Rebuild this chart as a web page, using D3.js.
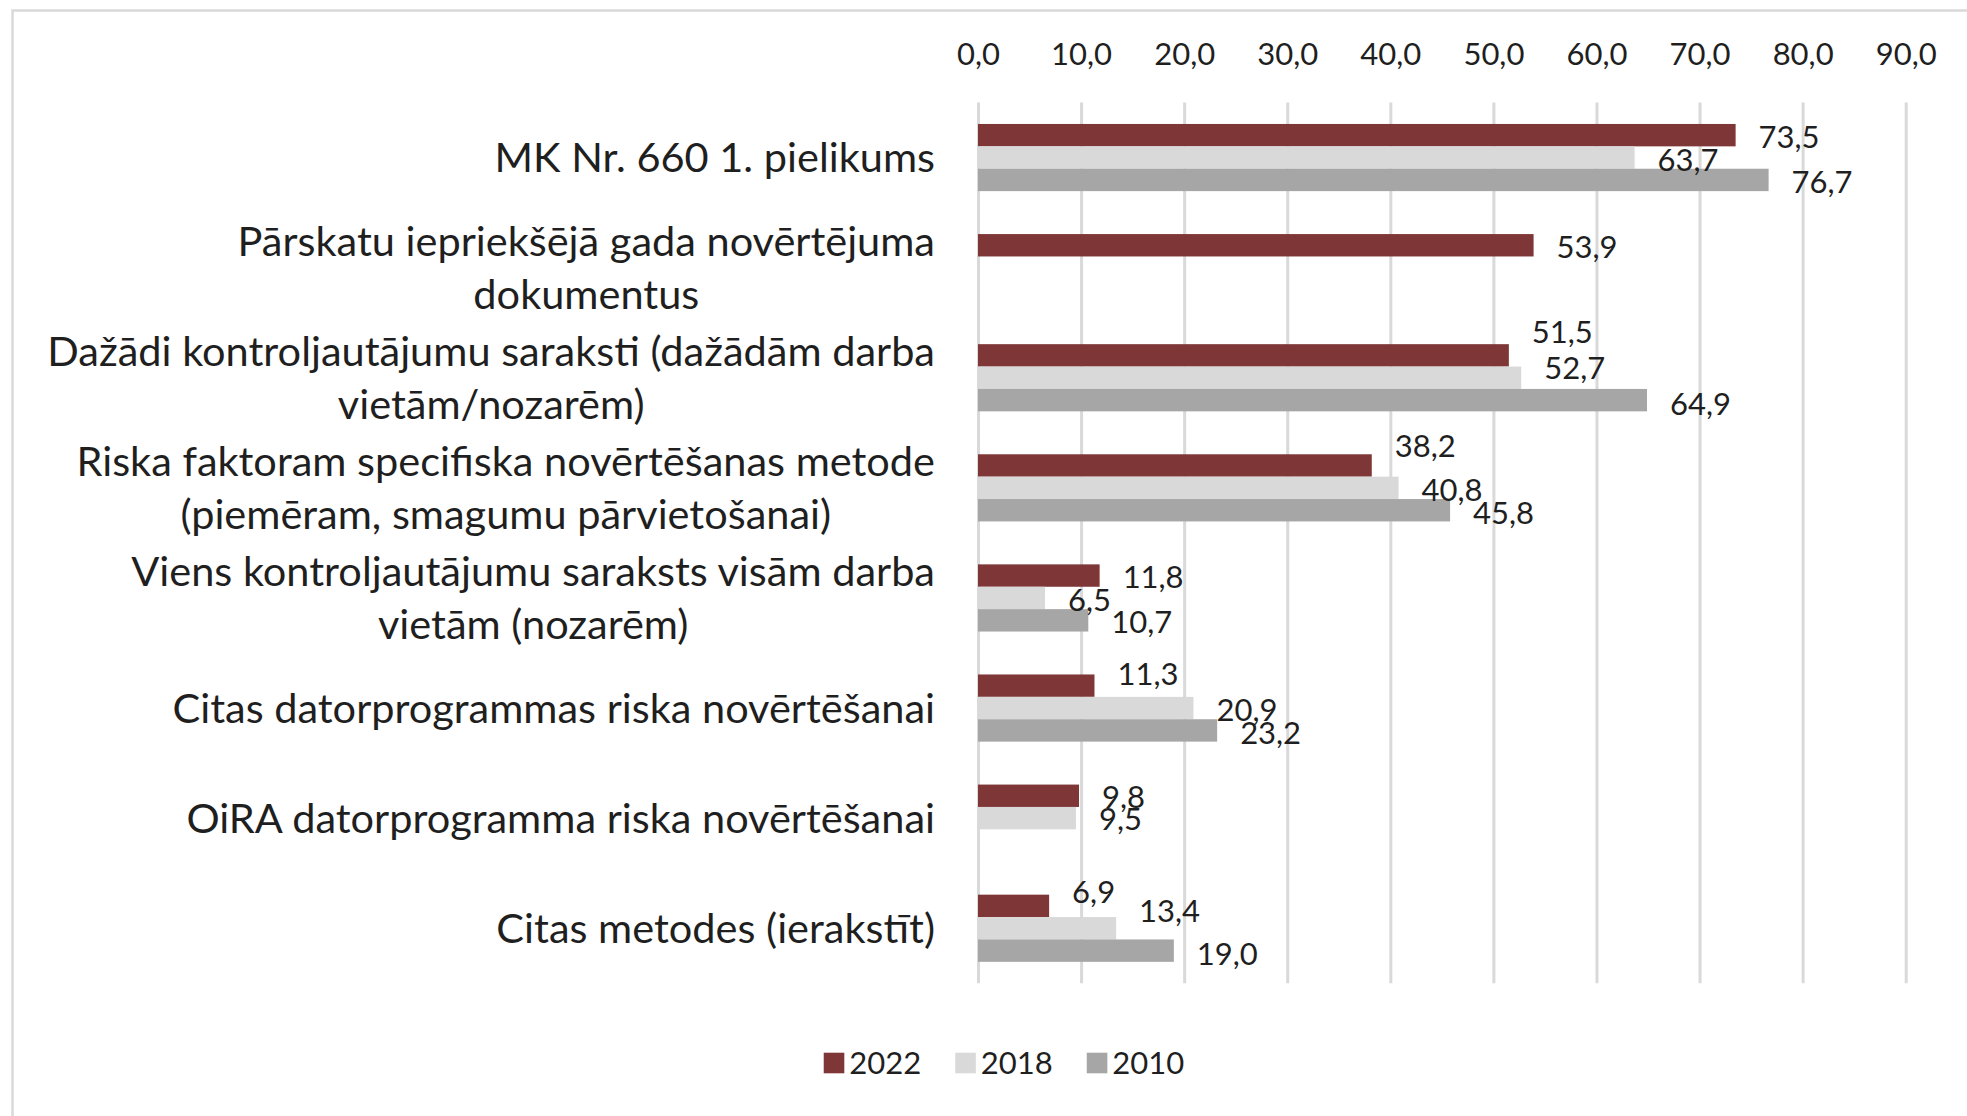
<!DOCTYPE html>
<html>
<head>
<meta charset="utf-8">
<script src="https://cdn.jsdelivr.net/npm/d3@7"></script>
<style>
  html, body { margin: 0; padding: 0; background: #ffffff; }
  svg { display: block; }
  text { font-family: Lato, "Open Sans", sans-serif; fill: #1f1f1f; }
</style>
</head>
<body>
<svg id="chart" width="1967" height="1116"></svg>
<script>
// ---------- data ----------
const categories = [
  "MK Nr. 660 1. pielikums",
  "Pārskatu iepriekšējā gada novērtējuma\ndokumentus",
  "Dažādi kontroljautājumu saraksti (dažādām darba\nvietām/nozarēm)",
  "Riska faktoram specifiska novērtēšanas metode\n(piemēram, smagumu pārvietošanai)",
  "Viens kontroljautājumu saraksts visām darba\nvietām (nozarēm)",
  "Citas datorprogrammas riska novērtēšanai",
  "OiRA datorprogramma riska novērtēšanai",
  "Citas metodes (ierakstīt)"
];
const seriesNames = ["2022", "2018", "2010"];
const values2022 = [73.5, 53.9, 51.5, 38.2, 11.8, 11.3, 9.8, 6.9];
const values2018 = [63.7, null, 52.7, 40.8, 6.5, 20.9, 9.5, 13.4];
const values2010 = [76.7, null, 64.9, 45.8, 10.7, 23.2, null, 19.0];
const xTicks = [0, 10, 20, 30, 40, 50, 60, 70, 80, 90];
const xMax = 90;

// ---------- layout / style (not data) ----------
const colors = ["#7e3636", "#d9d9d9", "#a6a6a6"];
const plot = { left: 978, right: 1905.7, top: 102.5, bottom: 983.3 };
const gapRatio = 0.39;
// manual vertical nudges of data labels (px, label centre relative to bar centre)
const labelNudge = [
  [2, 2, 2], [2, 0, 0], [-24, -10, 4], [-20, 2, 3],
  [1.5, 2, 2], [-12, 2, 2], [1, 1, 0], [-14, -17, 3]
];
const valueFont = 31, catFont = 41.5, catLine = 53;

const fmt = v => d3.format(".1f")(v).replace(".", ",");

const svg = d3.select("#chart");

// chart area border
svg.append("rect")
  .attr("x", 12.5).attr("y", 10.5)
  .attr("width", 2400).attr("height", 2400)
  .attr("fill", "none").attr("stroke", "#d9d9d9").attr("stroke-width", 2.5);

const table = categories.map((c, i) => ({
  cat: c,
  vals: [values2022[i], values2018[i], values2010[i]]
}));

const x = d3.scaleLinear().domain([0, xMax]).range([plot.left, plot.right]);
const y = d3.scaleBand().domain(categories)
  .range([plot.top, plot.bottom])
  .paddingInner(gapRatio).paddingOuter(gapRatio / 2);
const ys = d3.scaleBand().domain(seriesNames).range([0, y.bandwidth()]);

// axis with gridlines
const axis = d3.axisTop(x)
  .tickValues(xTicks)
  .tickSize(-(plot.bottom - plot.top))
  .tickPadding(37.5)
  .tickFormat(fmt);
const ag = svg.append("g").attr("transform", `translate(0,${plot.top})`).call(axis);
ag.select(".domain").remove();
ag.selectAll(".tick line").attr("stroke", "#d9d9d9").attr("stroke-width", 3);
ag.selectAll(".tick text")
  .attr("font-size", valueFont)
  .attr("font-family", "Lato, sans-serif")
  .attr("fill", "#1f1f1f");

// bars
const groups = svg.append("g").selectAll("g.grp")
  .data(table).join("g")
  .attr("class", "grp")
  .attr("transform", d => `translate(0,${y(d.cat)})`);

groups.each(function(d, gi) {
  const g = d3.select(this);
  const items = d.vals.map((v, si) => ({ v, si })).filter(e => e.v !== null);
  g.selectAll("rect").data(items).join("rect")
    .attr("x", x(0))
    .attr("y", e => ys(seriesNames[e.si]))
    .attr("width", e => x(e.v) - x(0))
    .attr("height", ys.bandwidth())
    .attr("fill", e => colors[e.si]);
  g.selectAll("text.lbl").data(items).join("text")
    .attr("class", "lbl")
    .attr("x", e => x(e.v) + 23)
    .attr("y", e => ys(seriesNames[e.si]) + ys.bandwidth() / 2 + labelNudge[gi][e.si] + valueFont * 0.36)
    .attr("font-size", valueFont)
    .text(e => fmt(e.v));
});

// category labels (wrapped lines centred in a right-aligned block)
const labelRight = 935;
const catG = svg.append("g");
categories.forEach(c => {
  const lines = c.split("\n");
  const cy = y(c) + y.bandwidth() / 2;
  const tmp = lines.map(l => catG.append("text").attr("font-size", catFont).text(l));
  const widths = tmp.map(t => t.node().getComputedTextLength());
  const maxW = d3.max(widths);
  const cx = labelRight - maxW / 2;
  const n = lines.length;
  tmp.forEach((t, i) => {
    const lc = cy + (i - (n - 1) / 2) * catLine;
    t.attr("x", cx).attr("text-anchor", "middle")
      .attr("y", lc + catFont * 0.35);
  });
});

// legend
const legendCenter = 1004, legendY = 1063, sw = 20.6;
const lg = svg.append("g");
let cursor = 0;
seriesNames.forEach((s, i) => {
  const g = lg.append("g");
  g.append("rect").attr("x", 0).attr("y", legendY - sw / 2).attr("width", sw).attr("height", sw).attr("fill", colors[i]);
  const t = g.append("text").attr("x", sw + 5).attr("y", legendY + valueFont * 0.36)
    .attr("font-size", valueFont).text(s);
  const w = sw + 5 + t.node().getComputedTextLength();
  g.attr("transform", `translate(${cursor},0)`);
  cursor += w + 34;
});
const totalW = cursor - 34;
lg.attr("transform", `translate(${legendCenter - totalW / 2},0)`);
</script>
</body>
</html>
